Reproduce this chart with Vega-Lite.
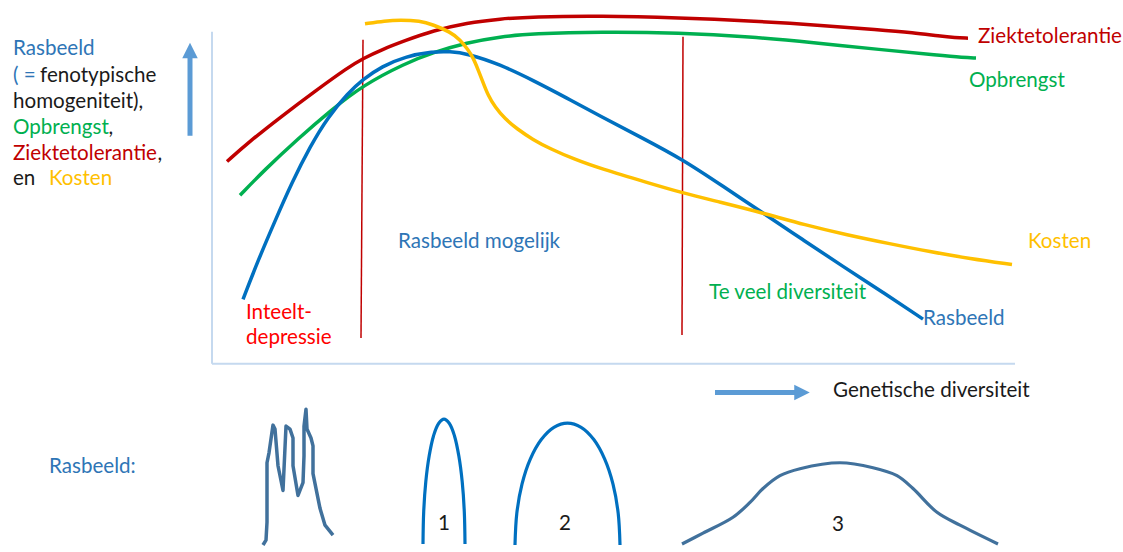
{
  "$schema": "https://vega.github.io/schema/vega-lite/v6.json",
  "width": 1123,
  "height": 552,
  "autosize": {"type": "fit", "contains": "padding"},
  "padding": 0,
  "background": "white",
  "config": {"view": {"stroke": null}},
  "datasets": {
    "lijnen": [
      {"s":"Ziektetolerantie","id":"z","o":1,"x":227,"y":163},
      {"s":"Ziektetolerantie","id":"z","o":2,"x":248,"y":144},
      {"s":"Ziektetolerantie","id":"z","o":3,"x":282,"y":117},
      {"s":"Ziektetolerantie","id":"z","o":4,"x":315,"y":92},
      {"s":"Ziektetolerantie","id":"z","o":5,"x":348,"y":68},
      {"s":"Ziektetolerantie","id":"z","o":6,"x":363,"y":59},
      {"s":"Ziektetolerantie","id":"z","o":7,"x":382,"y":50},
      {"s":"Ziektetolerantie","id":"z","o":8,"x":405,"y":41},
      {"s":"Ziektetolerantie","id":"z","o":9,"x":433,"y":31},
      {"s":"Ziektetolerantie","id":"z","o":10,"x":467,"y":23},
      {"s":"Ziektetolerantie","id":"z","o":11,"x":500,"y":19},
      {"s":"Ziektetolerantie","id":"z","o":12,"x":533,"y":17},
      {"s":"Ziektetolerantie","id":"z","o":13,"x":600,"y":16},
      {"s":"Ziektetolerantie","id":"z","o":14,"x":680,"y":18},
      {"s":"Ziektetolerantie","id":"z","o":15,"x":750,"y":21},
      {"s":"Ziektetolerantie","id":"z","o":16,"x":813,"y":25},
      {"s":"Ziektetolerantie","id":"z","o":17,"x":880,"y":30},
      {"s":"Ziektetolerantie","id":"z","o":18,"x":913,"y":33},
      {"s":"Ziektetolerantie","id":"z","o":19,"x":940,"y":36.5},
      {"s":"Ziektetolerantie","id":"z","o":20,"x":955,"y":38},
      {"s":"Ziektetolerantie","id":"z","o":21,"x":968,"y":38.5},
      {"s":"Opbrengst","id":"g","o":1,"x":240,"y":197},
      {"s":"Opbrengst","id":"g","o":2,"x":265,"y":171},
      {"s":"Opbrengst","id":"g","o":3,"x":298,"y":140},
      {"s":"Opbrengst","id":"g","o":4,"x":330,"y":112},
      {"s":"Opbrengst","id":"g","o":5,"x":363,"y":86},
      {"s":"Opbrengst","id":"g","o":6,"x":405,"y":64},
      {"s":"Opbrengst","id":"g","o":7,"x":433,"y":53},
      {"s":"Opbrengst","id":"g","o":8,"x":467,"y":43},
      {"s":"Opbrengst","id":"g","o":9,"x":500,"y":37},
      {"s":"Opbrengst","id":"g","o":10,"x":533,"y":34},
      {"s":"Opbrengst","id":"g","o":11,"x":600,"y":32},
      {"s":"Opbrengst","id":"g","o":12,"x":680,"y":33},
      {"s":"Opbrengst","id":"g","o":13,"x":750,"y":37},
      {"s":"Opbrengst","id":"g","o":14,"x":813,"y":43},
      {"s":"Opbrengst","id":"g","o":15,"x":880,"y":50},
      {"s":"Opbrengst","id":"g","o":16,"x":940,"y":56},
      {"s":"Opbrengst","id":"g","o":17,"x":963,"y":58},
      {"s":"Opbrengst","id":"g","o":18,"x":976,"y":58.5},
      {"s":"Rasbeeld","id":"r","o":1,"x":243,"y":302},
      {"s":"Rasbeeld","id":"r","o":2,"x":258,"y":263},
      {"s":"Rasbeeld","id":"r","o":3,"x":275,"y":223},
      {"s":"Rasbeeld","id":"r","o":4,"x":292,"y":184},
      {"s":"Rasbeeld","id":"r","o":5,"x":310,"y":148},
      {"s":"Rasbeeld","id":"r","o":6,"x":328,"y":118},
      {"s":"Rasbeeld","id":"r","o":7,"x":348,"y":94},
      {"s":"Rasbeeld","id":"r","o":8,"x":363,"y":80},
      {"s":"Rasbeeld","id":"r","o":9,"x":382,"y":67},
      {"s":"Rasbeeld","id":"r","o":10,"x":405,"y":57},
      {"s":"Rasbeeld","id":"r","o":11,"x":433,"y":52},
      {"s":"Rasbeeld","id":"r","o":12,"x":450,"y":52},
      {"s":"Rasbeeld","id":"r","o":13,"x":467,"y":54},
      {"s":"Rasbeeld","id":"r","o":14,"x":500,"y":65},
      {"s":"Rasbeeld","id":"r","o":15,"x":533,"y":81},
      {"s":"Rasbeeld","id":"r","o":16,"x":567,"y":99},
      {"s":"Rasbeeld","id":"r","o":17,"x":600,"y":117},
      {"s":"Rasbeeld","id":"r","o":18,"x":640,"y":138},
      {"s":"Rasbeeld","id":"r","o":19,"x":683,"y":161},
      {"s":"Rasbeeld","id":"r","o":20,"x":723,"y":188},
      {"s":"Rasbeeld","id":"r","o":21,"x":763,"y":215},
      {"s":"Rasbeeld","id":"r","o":22,"x":803,"y":242},
      {"s":"Rasbeeld","id":"r","o":23,"x":843,"y":269},
      {"s":"Rasbeeld","id":"r","o":24,"x":883,"y":295},
      {"s":"Rasbeeld","id":"r","o":25,"x":923,"y":322},
      {"s":"Kosten","id":"k","o":1,"x":365,"y":24},
      {"s":"Kosten","id":"k","o":2,"x":385,"y":21},
      {"s":"Kosten","id":"k","o":3,"x":400,"y":20},
      {"s":"Kosten","id":"k","o":4,"x":420,"y":21},
      {"s":"Kosten","id":"k","o":5,"x":433,"y":25},
      {"s":"Kosten","id":"k","o":6,"x":450,"y":32},
      {"s":"Kosten","id":"k","o":7,"x":460,"y":40},
      {"s":"Kosten","id":"k","o":8,"x":468,"y":50},
      {"s":"Kosten","id":"k","o":9,"x":473,"y":58},
      {"s":"Kosten","id":"k","o":10,"x":478,"y":70},
      {"s":"Kosten","id":"k","o":11,"x":483,"y":83},
      {"s":"Kosten","id":"k","o":12,"x":488,"y":96},
      {"s":"Kosten","id":"k","o":13,"x":495,"y":108},
      {"s":"Kosten","id":"k","o":14,"x":505,"y":120},
      {"s":"Kosten","id":"k","o":15,"x":517,"y":130},
      {"s":"Kosten","id":"k","o":16,"x":533,"y":141},
      {"s":"Kosten","id":"k","o":17,"x":550,"y":150},
      {"s":"Kosten","id":"k","o":18,"x":575,"y":161},
      {"s":"Kosten","id":"k","o":19,"x":600,"y":170},
      {"s":"Kosten","id":"k","o":20,"x":650,"y":185},
      {"s":"Kosten","id":"k","o":21,"x":680,"y":194},
      {"s":"Kosten","id":"k","o":22,"x":720,"y":204},
      {"s":"Kosten","id":"k","o":23,"x":763,"y":215},
      {"s":"Kosten","id":"k","o":24,"x":805,"y":227},
      {"s":"Kosten","id":"k","o":25,"x":847,"y":237},
      {"s":"Kosten","id":"k","o":26,"x":890,"y":246},
      {"s":"Kosten","id":"k","o":27,"x":930,"y":254},
      {"s":"Kosten","id":"k","o":28,"x":970,"y":261},
      {"s":"Kosten","id":"k","o":29,"x":1012,"y":267}
    ],
    "vormen": [
      {"s":"Boog","id":"b1","o":1,"x":423,"y":549},
      {"s":"Boog","id":"b1","o":2,"x":423.7,"y":516.4},
      {"s":"Boog","id":"b1","o":3,"x":425.8,"y":486},
      {"s":"Boog","id":"b1","o":4,"x":429.2,"y":459.9},
      {"s":"Boog","id":"b1","o":5,"x":433.5,"y":439.9},
      {"s":"Boog","id":"b1","o":6,"x":438.6,"y":427.3},
      {"s":"Boog","id":"b1","o":7,"x":444,"y":423},
      {"s":"Boog","id":"b1","o":8,"x":449.4,"y":427.3},
      {"s":"Boog","id":"b1","o":9,"x":454.5,"y":439.9},
      {"s":"Boog","id":"b1","o":10,"x":458.8,"y":459.9},
      {"s":"Boog","id":"b1","o":11,"x":462.2,"y":486},
      {"s":"Boog","id":"b1","o":12,"x":464.3,"y":516.4},
      {"s":"Boog","id":"b1","o":13,"x":465,"y":549},
      {"s":"Boog","id":"b2","o":1,"x":515,"y":550},
      {"s":"Boog","id":"b2","o":2,"x":516.8,"y":518.1},
      {"s":"Boog","id":"b2","o":3,"x":522,"y":488.5},
      {"s":"Boog","id":"b2","o":4,"x":530.4,"y":463},
      {"s":"Boog","id":"b2","o":5,"x":541.3,"y":443.5},
      {"s":"Boog","id":"b2","o":6,"x":553.9,"y":431.2},
      {"s":"Boog","id":"b2","o":7,"x":567.5,"y":427},
      {"s":"Boog","id":"b2","o":8,"x":581.1,"y":431.2},
      {"s":"Boog","id":"b2","o":9,"x":593.8,"y":443.5},
      {"s":"Boog","id":"b2","o":10,"x":604.6,"y":463},
      {"s":"Boog","id":"b2","o":11,"x":613,"y":488.5},
      {"s":"Boog","id":"b2","o":12,"x":618.2,"y":518.1},
      {"s":"Boog","id":"b2","o":13,"x":620,"y":550},
      {"s":"Vorm","id":"b3","o":1,"x":682,"y":549},
      {"s":"Vorm","id":"b3","o":2,"x":703,"y":538},
      {"s":"Vorm","id":"b3","o":3,"x":733,"y":522},
      {"s":"Vorm","id":"b3","o":4,"x":750,"y":507},
      {"s":"Vorm","id":"b3","o":5,"x":763,"y":493},
      {"s":"Vorm","id":"b3","o":6,"x":780,"y":480},
      {"s":"Vorm","id":"b3","o":7,"x":800,"y":473},
      {"s":"Vorm","id":"b3","o":8,"x":840,"y":467},
      {"s":"Vorm","id":"b3","o":9,"x":873,"y":472},
      {"s":"Vorm","id":"b3","o":10,"x":897,"y":480},
      {"s":"Vorm","id":"b3","o":11,"x":913,"y":493},
      {"s":"Vorm","id":"b3","o":12,"x":937,"y":517},
      {"s":"Vorm","id":"b3","o":13,"x":960,"y":530},
      {"s":"Vorm","id":"b3","o":14,"x":998,"y":549}
    ],
    "grillig": [
      {"s":"Vorm","id":"v","o":1,"x":263,"y":550},
      {"s":"Vorm","id":"v","o":2,"x":266,"y":545},
      {"s":"Vorm","id":"v","o":3,"x":267,"y":527},
      {"s":"Vorm","id":"v","o":4,"x":267,"y":467},
      {"s":"Vorm","id":"v","o":5,"x":269,"y":457},
      {"s":"Vorm","id":"v","o":6,"x":273,"y":429},
      {"s":"Vorm","id":"v","o":7,"x":275,"y":433},
      {"s":"Vorm","id":"v","o":8,"x":278,"y":470},
      {"s":"Vorm","id":"v","o":9,"x":283,"y":495},
      {"s":"Vorm","id":"v","o":10,"x":286,"y":430},
      {"s":"Vorm","id":"v","o":11,"x":290,"y":433},
      {"s":"Vorm","id":"v","o":12,"x":293,"y":442},
      {"s":"Vorm","id":"v","o":13,"x":293,"y":470},
      {"s":"Vorm","id":"v","o":14,"x":298,"y":500},
      {"s":"Vorm","id":"v","o":15,"x":303,"y":487},
      {"s":"Vorm","id":"v","o":16,"x":304,"y":460},
      {"s":"Vorm","id":"v","o":17,"x":304,"y":430},
      {"s":"Vorm","id":"v","o":18,"x":306,"y":413},
      {"s":"Vorm","id":"v","o":19,"x":307,"y":433},
      {"s":"Vorm","id":"v","o":20,"x":311,"y":442},
      {"s":"Vorm","id":"v","o":21,"x":313,"y":450},
      {"s":"Vorm","id":"v","o":22,"x":313,"y":478},
      {"s":"Vorm","id":"v","o":23,"x":320,"y":513},
      {"s":"Vorm","id":"v","o":24,"x":325,"y":530},
      {"s":"Vorm","id":"v","o":25,"x":333,"y":540}
    ],
    "regels": [
      {"s":"As","x":212,"y":32,"x2":212,"y2":367},
      {"s":"As","x":212,"y":367,"x2":1015,"y2":367},
      {"s":"Grens","x":363,"y":40,"x2":361,"y2":341},
      {"s":"Grens","x":683,"y":37,"x2":682,"y2":338},
      {"s":"Pijl","x":190,"y":137,"x2":190,"y2":56},
      {"s":"Pijl","x":715,"y":396,"x2":797,"y2":396}
    ],
    "pijlpunten": [
      {"s":"Pijl","id":"op","x":190,"y":51},
      {"s":"Pijl","id":"rechts","x":802,"y":396}
    ],
    "teksten": [
      {"s":"tRas","t":"Rasbeeld","x":13,"y":56},
      {"s":"tRas","t":"( =","x":13,"y":83},
      {"s":"tZwart","t":"fenotypische","x":40,"y":83},
      {"s":"tZwart","t":"homogeniteit),","x":13,"y":109},
      {"s":"tOpb","t":"Opbrengst","x":13,"y":135},
      {"s":"tZwart","t":",","x":108.5,"y":135},
      {"s":"tZiekte","t":"Ziektetolerantie","x":13,"y":161},
      {"s":"tZwart","t":",","x":157.5,"y":161},
      {"s":"tZwart","t":"en","x":13,"y":187},
      {"s":"tKosten","t":"Kosten","x":49,"y":187},
      {"s":"tZiekte","t":"Ziektetolerantie","x":978,"y":43},
      {"s":"tOpb","t":"Opbrengst","x":969,"y":88},
      {"s":"tKosten","t":"Kosten","x":1028,"y":250},
      {"s":"tOpb","t":"Te veel diversiteit","x":709,"y":302},
      {"s":"tRas","t":"Rasbeeld","x":923,"y":328},
      {"s":"tRas","t":"Rasbeeld mogelijk","x":398,"y":250},
      {"s":"tInteelt","t":"Inteelt-","x":246,"y":322},
      {"s":"tInteelt","t":"depressie","x":246,"y":347},
      {"s":"tZwart","t":"Genetische diversiteit","x":833,"y":401},
      {"s":"tRas","t":"Rasbeeld:","x":49,"y":477}
    ],
    "nummers": [
      {"s":"tZwart","t":"1","x":444,"y":535},
      {"s":"tZwart","t":"2","x":565,"y":535},
      {"s":"tZwart","t":"3","x":838,"y":536}
    ]
  },
  "encoding": {
    "x": {"field":"x","type":"quantitative","scale":{"domain":[0,1123],"nice":false,"zero":false},"axis":null},
    "y": {"field":"y","type":"quantitative","scale":{"domain":[0,552],"reverse":true,"nice":false,"zero":false},"axis":null},
    "color": {"field":"s","type":"nominal","legend":null,"scale":{
      "domain":["Rasbeeld","Ziektetolerantie","Opbrengst","Kosten","Boog","Vorm","As","Grens","Pijl","tRas","tZiekte","tOpb","tKosten","tZwart","tInteelt"],
      "range":["#0070c0","#c00000","#00b050","#ffc000","#0070c0","#41719c","#c5d9ef","#c00000","#5b9bd5","#2e75b6","#c00000","#00b050","#ffc000","#1a1a1a","#ff0000"]}}
  },
  "layer": [
    {"data":{"name":"regels"},"transform":[{"filter":"datum.s === 'As'"}],
     "mark":{"type":"rule","strokeWidth":2},
     "encoding":{"x2":{"field":"x2"},"y2":{"field":"y2"}}},
    {"data":{"name":"regels"},"transform":[{"filter":"datum.s === 'Grens'"}],
     "mark":{"type":"rule","strokeWidth":1.5},
     "encoding":{"x2":{"field":"x2"},"y2":{"field":"y2"}}},
    {"data":{"name":"regels"},"transform":[{"filter":"datum.s === 'Pijl'"}],
     "mark":{"type":"rule","strokeWidth":5},
     "encoding":{"x2":{"field":"x2"},"y2":{"field":"y2"}}},
    {"data":{"name":"pijlpunten"},
     "mark":{"type":"point","filled":true,"opacity":1,"size":240,"strokeWidth":0},
     "encoding":{"shape":{"field":"id","type":"nominal","legend":null,"scale":{"domain":["op","rechts"],"range":["M0,-1L1,1L-1,1Z","M1,0L-1,-1L-1,1Z"]}}}},
    {"data":{"name":"lijnen"},
     "mark":{"type":"line","interpolate":"basis","strokeWidth":3.5,"strokeCap":"butt"},
     "encoding":{"detail":{"field":"id"},"order":{"field":"o","type":"quantitative"}}},
    {"data":{"name":"vormen"},
     "mark":{"type":"line","interpolate":"catmull-rom","strokeWidth":3.2},
     "encoding":{"detail":{"field":"id"},"order":{"field":"o","type":"quantitative"}}},
    {"data":{"name":"grillig"},
     "mark":{"type":"line","interpolate":"linear","strokeWidth":3.5,"strokeJoin":"round"},
     "encoding":{"detail":{"field":"id"},"order":{"field":"o","type":"quantitative"}}},
    {"data":{"name":"teksten"},
     "mark":{"type":"text","align":"left","baseline":"alphabetic","font":"Lato","fontSize":20.6},
     "encoding":{"text":{"field":"t"}}},
    {"data":{"name":"nummers"},
     "mark":{"type":"text","align":"center","baseline":"alphabetic","font":"Lato","fontSize":20.6},
     "encoding":{"text":{"field":"t"}}}
  ]
}
